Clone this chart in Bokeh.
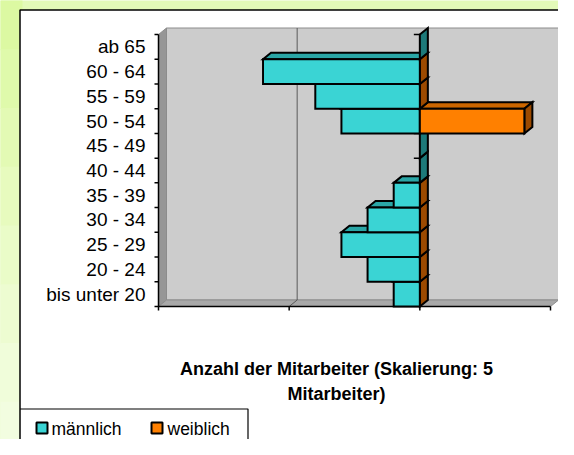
from bokeh.plotting import figure
from bokeh.core.properties import value
from bokeh.embed import file_html
from bokeh.resources import INLINE

# ---------------- data ----------------
categories = ["bis unter 20", "20 - 24", "25 - 29", "30 - 34", "35 - 39", "40 - 44",
              "45 - 49", "50 - 54", "55 - 59", "60 - 64", "ab 65"]
male = [1, 2, 3, 2, 1, 0, 0, 3, 4, 6, 0]
female = [0, 0, 0, 0, 0, 0, 0, 4, 0, 0, 0]
x_ticks = [-10, -5, 0, 5]
series_names = ["männlich", "weiblich"]
axis_title = ["Anzahl der Mitarbeiter (Skalierung: 5", "Mitarbeiter)"]

# ---------------- geometry (reference pixels) ----------------
W, H = 558, 439
OFF = 0
AX_L, AX_R = 158, 550
AX_B, AX_T = 306, 34
X_MIN, X_MAX = x_ticks[0], x_ticks[-1]
N = len(categories)
sx = (AX_R - AX_L) / (X_MAX - X_MIN)
sy = (AX_B - AX_T) / N
x_start = X_MIN - (AX_L - OFF) / sx
x_end = x_start + W / sx
y_end = (AX_B - OFF) / sy
y_start = y_end - H / sy


def rx(X):
    return x_start + (X - OFF) / sx


def ry(Y):
    return y_end - (Y - OFF) / sy


dx = 8 / sx
dy = 6.5 / sy

FONT = value("Liberation Sans")
TEAL, TEAL_TOP, TEAL_SIDE = "#3ad4d4", "#2aa6a6", "#1d7a7a"
ORANGE, ORANGE_TOP, ORANGE_SIDE = "#ff8000", "#cc6600", "#9c4a00"

p = figure(width=W, height=H, x_range=(x_start, x_end), y_range=(y_start, y_end),
           output_backend="svg", toolbar_location=None, min_border=0,
           x_axis_location=None, y_axis_location=None)
p.grid.visible = False
p.outline_line_color = None
p.background_fill_color = "#e3fab8"
p.border_fill_color = "#e3fab8"

# green gradient on the left strip
greens = ["#dcf9a2", "#dffaab", "#e3fab4", "#e7fbbe", "#eafcc8", "#edfcd1", "#f0fdda", "#f2fde0"]
nb = len(greens)
for k, c in enumerate(greens):
    p.quad(left=rx(-10), right=rx(22), top=ry(-10 + k * 470 / nb), bottom=ry(-10 + (k + 1) * 470 / nb + 1),
           fill_color=c, line_color=None)

# white chart area
p.quad(left=rx(19.5), right=rx(700), top=ry(9.5), bottom=ry(700),
       fill_color="white", line_color=None)
p.line([rx(19.5), rx(19.5), rx(700)], [ry(700), ry(9.5), ry(9.5)], line_color="black", line_width=1.5)

# ---------------- 3D walls ----------------
walls_x = [
    [X_MIN + dx, X_MAX + dx, X_MAX + dx, X_MIN + dx],
    [X_MIN, X_MIN + dx, X_MIN + dx, X_MIN],
    [X_MIN, X_MAX, X_MAX + dx, X_MIN + dx],
]
walls_y = [
    [dy, dy, N + dy, N + dy],
    [0, dy, N + dy, N],
    [0, 0, dy, dy],
]
p.patches(walls_x, walls_y, fill_color=["#cccccc", "#969696", "#a8a8a8"],
          line_color="#8c8c8c", line_width=1)

# gridlines
for t in x_ticks[1:-1]:
    p.line([t, t + dx, t + dx], [0, dy, N + dy], line_color="#5a5a5a", line_width=1)

# axes
p.line([X_MIN, X_MIN], [0, N], line_color="black", line_width=1.5)
p.line([X_MIN, X_MAX], [0, 0], line_color="black", line_width=1.5)
p.segment(x0=[X_MIN] * (N + 1), y0=list(range(N + 1)), x1=[X_MIN - 4 / sx] * (N + 1),
          y1=list(range(N + 1)), line_color="black", line_width=1.5)
p.segment(x0=x_ticks, y0=[0] * len(x_ticks), x1=x_ticks, y1=[-4 / sy] * len(x_ticks),
          line_color="black", line_width=1.5)

# small edge marks of empty male bars
zero_rows = [i for i in range(N) if male[i] == 0]
p.segment(x0=[-6 / sx] * len(zero_rows), y0=[i + 1 for i in zero_rows], x1=[0] * len(zero_rows),
          y1=[i + 1 for i in zero_rows], line_color="black", line_width=1.5)

# ---------------- 3D bars ----------------
xs, ys, cols = [], [], []
for i in range(N):
    m, f = male[i], female[i]
    if m > 0:
        xs.append([-m, 0, dx, -m + dx]); ys.append([i + 1, i + 1, i + 1 + dy, i + 1 + dy]); cols.append(TEAL_TOP)
    if f == 0:
        xs.append([0, dx, dx, 0]); ys.append([i, i + dy, i + 1 + dy, i + 1])
        cols.append(ORANGE_SIDE if m > 0 else TEAL_SIDE)
    if m > 0:
        xs.append([-m, 0, 0, -m]); ys.append([i, i, i + 1, i + 1]); cols.append(TEAL)
    if f > 0:
        xs.append([0, f, f + dx, dx]); ys.append([i + 1, i + 1, i + 1 + dy, i + 1 + dy]); cols.append(ORANGE_TOP)
        xs.append([f, f + dx, f + dx, f]); ys.append([i, i + dy, i + 1 + dy, i + 1]); cols.append(ORANGE_SIDE)
        xs.append([0, f, f, 0]); ys.append([i, i, i + 1, i + 1]); cols.append(ORANGE)
p.patches(xs, ys, fill_color=cols, line_color="black", line_width=2, line_join="miter")

# category labels
p.text(x=[X_MIN] * N, y=[i + 0.5 for i in range(N)], text=categories, x_offset=-13,
       text_align="right", text_baseline="middle", text_font=FONT,
       text_font_size="19px", text_color="black")

# axis title
p.text(x=[rx(336), rx(336)], y=[ry(368), ry(393)], text=axis_title,
       text_align="center", text_baseline="middle", text_font=FONT,
       text_font_size="18px", text_font_style="bold", text_color="black")

# legend box
p.line([rx(19.5), rx(247.5), rx(247.5)], [ry(408.5), ry(408.5), ry(700)], line_color="black", line_width=1.2)
p.quad(left=[rx(36), rx(151)], right=[rx(47), rx(162)], top=[ry(422), ry(422)], bottom=[ry(433), ry(433)],
       fill_color=[TEAL, ORANGE], line_color="black", line_width=2)
p.text(x=[rx(51), rx(167)], y=[ry(428), ry(428)], text=series_names,
       text_align="left", text_baseline="middle", text_font=FONT,
       text_font_size="17.5px", text_color="black")

open("out.html", "w").write(file_html(p, INLINE))
